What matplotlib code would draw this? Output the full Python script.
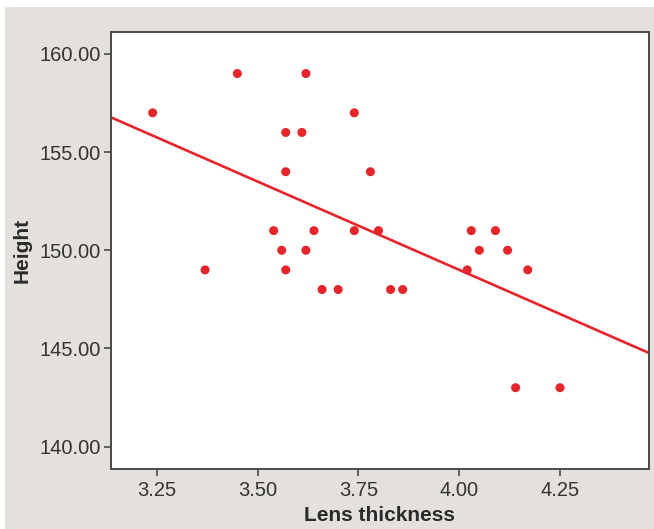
import matplotlib
matplotlib.use('Agg')
import matplotlib.pyplot as plt
import numpy as np
from matplotlib.patches import Rectangle

plt.rcParams['font.family'] = ['Liberation Sans', 'DejaVu Sans']

lens_thickness = [3.24, 3.37, 3.45, 3.54, 3.56, 3.57, 3.57, 3.57, 3.61, 3.62,
                  3.62, 3.64, 3.66, 3.70, 3.74, 3.74, 3.78, 3.80, 3.83, 3.86,
                  4.02, 4.03, 4.05, 4.09, 4.12, 4.14, 4.17, 4.25]
height = [157, 149, 159, 151, 150, 156, 154, 149, 156, 159,
          150, 151, 148, 148, 157, 151, 154, 151, 148, 148,
          149, 151, 150, 151, 150, 143, 149, 143]
x_ticks = [3.25, 3.50, 3.75, 4.00, 4.25]
y_ticks = [140, 145, 150, 155, 160]

red = '#ea2328'
frame = '#4a4a4a'

fig = plt.figure(figsize=(6.54, 5.29), dpi=100, facecolor='white')
fig.patches.append(Rectangle((5 / 654, 0), 1, 1 - 7 / 529, transform=fig.transFigure,
                             facecolor='#e4e0dc', edgecolor='none', zorder=-10))

ax = fig.add_axes([110.7 / 654, 1 - 469 / 529, (649 - 110.7) / 654, (469 - 32.3) / 529])
ax.set_facecolor('white')
ax.set_xlim(3.136, 4.4707)
ax.set_ylim(138.86, 161.1)

ax.scatter(lens_thickness, height, s=42, color=red, edgecolors='none', zorder=3)

# least squares fit line across the full axis width
slope, intercept = np.polyfit(lens_thickness, height, 1)
xs = np.array(ax.get_xlim())
ax.plot(xs, intercept + slope * xs, color=red, lw=1.9, zorder=2)

ax.set_xticks(x_ticks)
ax.set_xticklabels([f'{t:.2f}' for t in x_ticks])
ax.set_yticks(y_ticks)
ax.set_yticklabels([f'{t:.2f}' for t in y_ticks])
ax.tick_params(direction='out', length=5, width=1.2, color=frame,
               labelsize=14.5, labelcolor='#333333', pad=2)
ax.tick_params(axis='x', pad=4)

for sp in ax.spines.values():
    sp.set_color(frame)
    sp.set_linewidth(1.4)

ax.set_xlabel('Lens thickness', fontsize=15, fontweight='bold', color='#2a2a2a', labelpad=4)
ax.set_ylabel('Height', fontsize=15, fontweight='bold', color='#2a2a2a', labelpad=6)

fig.savefig('out.png', dpi=100, facecolor=fig.get_facecolor())
